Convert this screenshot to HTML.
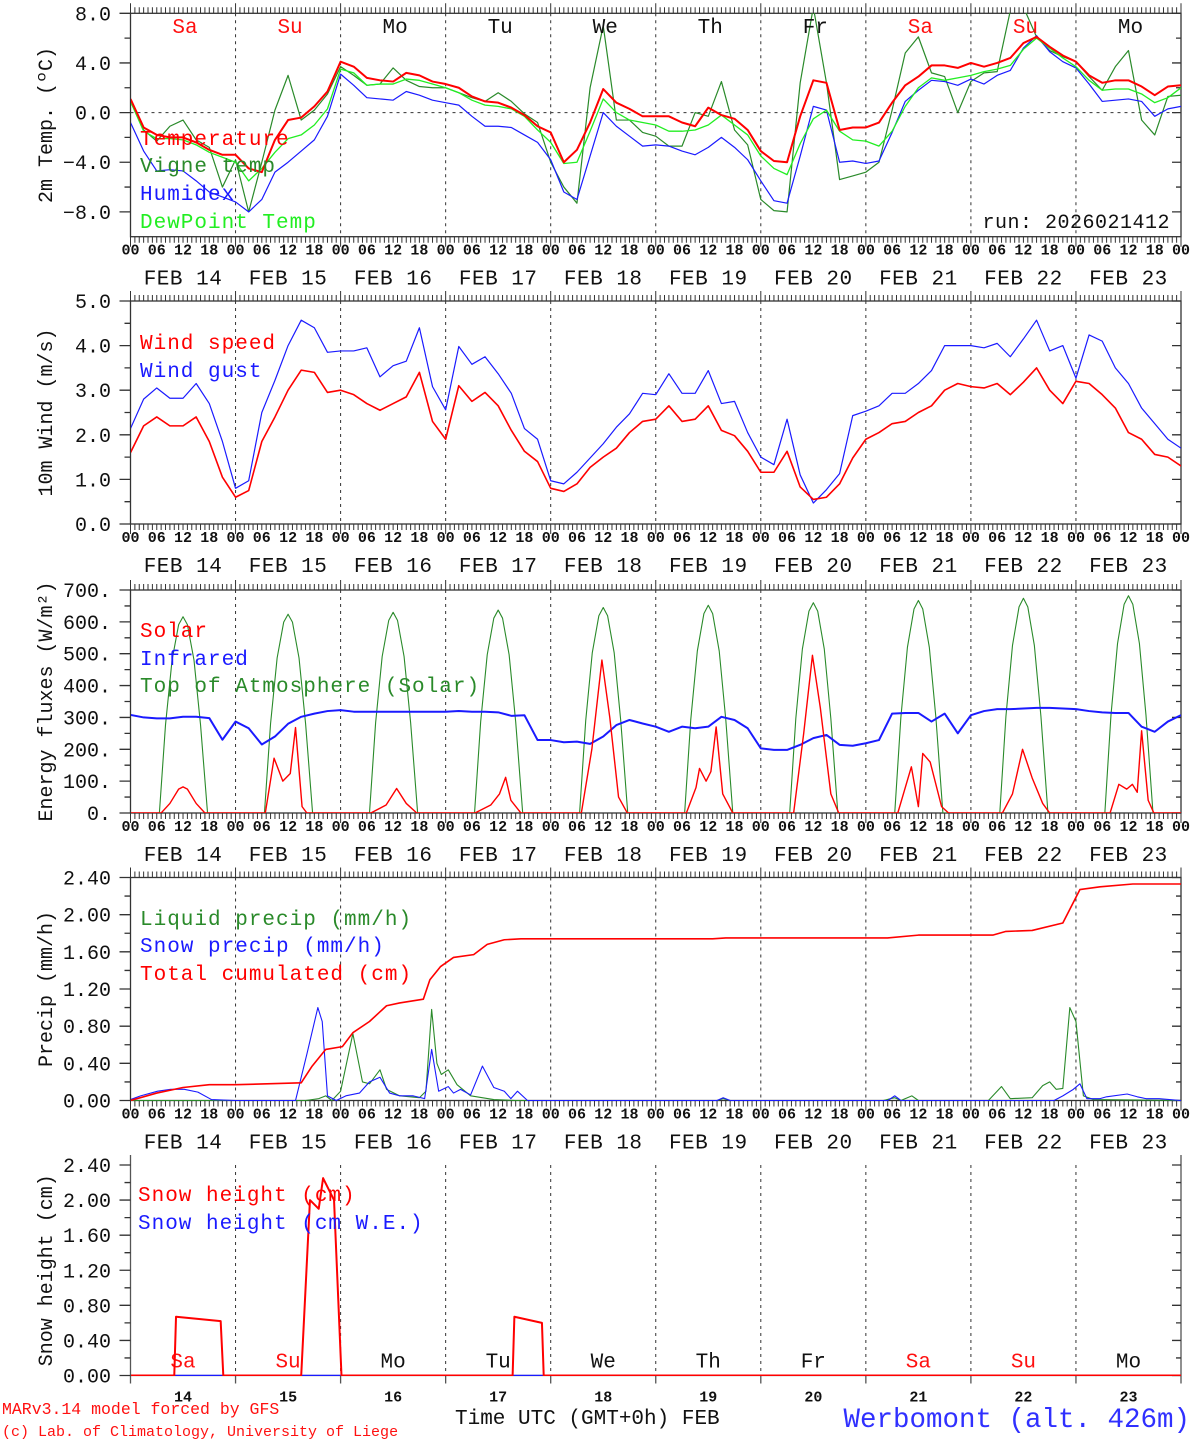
<!DOCTYPE html>
<html><head><meta charset="utf-8">
<style>
html,body{margin:0;padding:0;background:#fff;}
svg{display:block;font-family:"Liberation Mono",monospace;}
</style></head>
<body>
<svg id="chart" width="1194" height="1440" viewBox="0 0 1194 1440" xmlns="http://www.w3.org/2000/svg">
<defs>
<clipPath id="c1"><rect x="131" y="13" width="1050" height="224"/></clipPath>
<clipPath id="c2"><rect x="131" y="301" width="1050" height="223"/></clipPath>
<clipPath id="c3"><rect x="131" y="590" width="1050" height="223"/></clipPath>
<clipPath id="c4"><rect x="131" y="877" width="1050" height="224"/></clipPath>
<clipPath id="c5"><rect x="131" y="1150" width="1050" height="226"/></clipPath>
</defs>
</svg>
<script>
// ---------- DATA ----------
const tempVals = [1.1,-1.2,-1.8,-2.0,-2.0,-2.4,-3.0,-3.4,-3.4,-4.5,-4.8,-2.2,-0.6,-0.4,0.5,1.7,4.1,3.7,2.8,2.6,2.5,3.2,3.0,2.5,2.3,2.0,1.3,0.9,0.8,0.4,-0.2,-1.1,-1.6,-4.0,-3.0,-0.8,1.9,0.8,0.3,-0.3,-0.3,-0.3,-0.8,-1.1,0.4,-0.2,-0.5,-1.4,-3.1,-3.9,-4.0,-0.3,2.6,2.4,-1.4,-1.2,-1.2,-0.8,0.8,2.2,2.9,3.8,3.8,3.6,4.0,3.7,4.0,4.4,5.6,6.1,5.3,4.6,4.1,3.0,2.4,2.6,2.6,2.1,1.4,2.1,2.2];
const vigneVals = [0.9,-1.4,-2.3,-1.1,-0.6,-2.2,-2.8,-6.0,-3.8,-8.0,-4.0,0.2,3.0,-0.6,0.2,1.5,3.7,3.0,2.2,2.3,3.6,2.6,2.1,2.0,2.0,1.6,1.2,0.9,1.6,0.9,-0.1,-0.8,-4.0,-6.0,-7.3,2.0,7.0,-0.6,-0.6,-1.6,-1.9,-2.7,-2.7,0.0,-0.3,2.5,-1.4,-2.6,-7.0,-7.9,-8.0,2.4,8.5,2.4,-5.4,-5.1,-4.8,-4.0,0.2,4.8,6.1,3.2,2.9,0.0,2.5,3.2,3.3,8.2,8.5,6.1,5.0,4.5,4.1,2.9,1.8,3.7,5.0,-0.6,-1.8,1.3,1.4];
const humidexVals = [-0.8,-3.1,-4.7,-4.6,-4.7,-5.5,-6.4,-6.8,-7.2,-8.0,-7.0,-4.8,-4.0,-3.1,-2.2,-0.3,3.1,2.2,1.2,1.1,1.0,1.7,1.4,1.0,0.8,0.6,-0.3,-1.1,-1.1,-1.2,-1.8,-2.4,-3.8,-6.4,-7.0,-3.5,0.0,-1.1,-1.9,-2.7,-2.6,-2.7,-3.1,-3.4,-2.8,-2.0,-2.8,-3.8,-5.5,-7.1,-7.3,-3.5,0.5,0.2,-4.0,-3.9,-4.1,-3.9,-1.6,0.9,1.8,2.6,2.5,2.2,2.7,2.3,3.0,3.4,5.2,6.2,4.9,4.1,3.6,2.3,0.9,1.0,1.1,0.9,-0.3,0.3,0.5];
const dewVals = [0.9,-1.5,-2.1,-2.1,-2.2,-2.6,-3.2,-3.6,-4.0,-5.5,-4.5,-3.2,-2.1,-1.8,-1.0,0.3,3.5,3.2,2.2,2.3,2.3,2.7,2.6,2.3,2.0,1.6,1.0,0.6,0.5,0.3,-0.3,-1.4,-2.4,-4.1,-4.0,-1.5,1.1,0.0,-0.6,-0.8,-1.0,-1.5,-1.5,-1.4,-1.0,-0.2,-1.0,-1.8,-3.5,-4.5,-5.0,-2.5,-0.5,0.2,-1.5,-2.2,-2.3,-2.7,-1.5,0.5,2.0,2.8,2.6,2.8,3.0,3.3,3.5,3.8,5.1,6.0,5.2,4.4,3.7,2.6,1.8,1.9,1.9,1.5,0.8,1.2,2.0];
const windVals = [1.6,2.2,2.4,2.2,2.2,2.4,1.85,1.05,0.6,0.75,1.85,2.4,3.0,3.45,3.4,2.95,3.0,2.9,2.7,2.55,2.7,2.85,3.4,2.3,1.9,3.1,2.75,2.95,2.65,2.1,1.63,1.4,0.8,0.73,0.9,1.27,1.5,1.7,2.05,2.3,2.35,2.65,2.3,2.35,2.65,2.1,1.98,1.63,1.16,1.16,1.63,0.83,0.55,0.6,0.9,1.48,1.9,2.05,2.25,2.3,2.5,2.65,3.0,3.15,3.08,3.05,3.15,2.9,3.18,3.5,3.0,2.7,3.2,3.15,2.9,2.6,2.05,1.9,1.56,1.5,1.3];
const gustVals = [2.14,2.8,3.05,2.82,2.82,3.15,2.7,1.85,0.8,0.97,2.5,3.22,4.0,4.57,4.4,3.85,3.88,3.88,3.95,3.3,3.55,3.65,4.4,3.08,2.56,3.98,3.58,3.75,3.37,2.93,2.14,1.9,0.97,0.9,1.16,1.48,1.8,2.17,2.47,2.93,2.9,3.37,2.93,2.93,3.44,2.7,2.75,2.05,1.5,1.33,2.35,1.1,0.47,0.77,1.13,2.43,2.53,2.65,2.93,2.93,3.15,3.44,4.0,4.0,4.0,3.95,4.05,3.75,4.15,4.57,3.88,4.0,3.27,4.24,4.1,3.5,3.15,2.6,2.25,1.9,1.7];
const infraredVals = [308,300,297,297,302,302,298,230,287,266,215,240,280,302,312,320,323,318,318,318,318,318,318,318,318,320,318,318,316,305,307,229,229,222,224,217,240,276,292,281,271,255,271,266,271,302,292,266,203,198,198,214,235,245,214,211,219,229,312,314,314,287,312,250,307,320,326,326,328,330,330,328,326,320,316,314,314,271,255,287,307];
const solarHours = [0,7,9,11,12,13,15,17,30.8,32.8,34.8,36.5,37.7,39.2,40.3,54.9,58.4,60.8,63,65.4,78.7,82.3,84.3,85.7,86.9,89.2,103,105.4,107.7,109.5,111.5,113.5,127,129.2,130,131.5,132.6,133.8,135.3,137.6,151.5,153.8,155.8,157.6,160,161.8,175.3,178.4,180,181,182.7,185.3,186.9,199.2,201.5,203.8,206,208.4,210,223.8,225.8,227.6,228.9,230,231,232.5,233.8,240];
const solarVals = [0,0,30,75,82,75,30,0,0,172,100,124,268,20,0,0,25,77,30,0,0,25,60,112,40,0,0,200,480,300,50,0,0,80,140,100,130,270,60,0,0,250,495,330,60,0,0,145,20,187,160,20,0,0,60,200,110,30,0,0,90,75,90,65,258,40,0,0];
const toaPeaks = [616,624,630,637,645,652,660,667,674,682];
const toaProfileHours = [6.6,8,9.5,11,12,13,14.5,16,17.6];
const toaProfile = [0,0.45,0.78,0.96,1,0.96,0.78,0.45,0];
const cumHours = [0,6,12,18,24,39,41.5,44.6,48.4,50.8,54.6,58.5,61.5,66.9,68.4,70.8,73.8,78.4,81.5,85.4,89.2,133,136,173,180,197,200,206,213,216.9,221.5,229,240];
const cumVals = [0,0.08,0.14,0.17,0.17,0.19,0.37,0.55,0.58,0.73,0.85,1.02,1.05,1.09,1.30,1.44,1.54,1.57,1.68,1.73,1.74,1.74,1.75,1.75,1.78,1.78,1.82,1.83,1.91,2.27,2.30,2.33,2.33];
const liqHours = [0,40,43,44.6,46,48,50.8,53,54.6,57,58.5,61.5,66,67.5,68.8,70,71,72.6,74.6,77.7,83,88,134,135.4,137,172,174.6,176,178.5,180,196,199,201,206,208.4,210,211.5,213,214.6,216,217.7,220,240];
const liqVals = [0,0,0.02,0.05,0.0,0.1,0.72,0.2,0.18,0.33,0.12,0.05,0.03,0.1,0.98,0.4,0.28,0.33,0.17,0.05,0.01,0,0,0.02,0,0,0.03,0,0.05,0,0,0.15,0.02,0.03,0.16,0.2,0.12,0.13,1.0,0.85,0.05,0.01,0];
const snowHours = [0,2.3,6.2,9.2,12.3,15.4,18.5,24,37.7,40.3,42.8,43.8,45,47,49.2,52.3,54.6,57,59.2,61.5,64.6,67.2,68.8,70.4,72.6,73.8,75.4,77.7,80.4,83,85.4,86.9,88.4,90.7,134,135.4,137,173,174.6,176,211,213,215.4,216.9,218.5,221.5,223,227.7,230,232,235,240];
const snowVals = [0.01,0.05,0.1,0.12,0.12,0.09,0.01,0,0,0.5,1.0,0.85,0.05,0,0.05,0.08,0.2,0.25,0.08,0.05,0.05,0.02,0.55,0.1,0.15,0.08,0.12,0.06,0.37,0.14,0.1,0.02,0.1,0,0,0.03,0,0,0.05,0,0,0.05,0.12,0.18,0.02,0.02,0.04,0.07,0.04,0.02,0.02,0];
const heightHours = [0,10,10.4,20.6,21.2,39,41,43,44,46.5,48.2,87.3,87.7,94,94.4,240];
const heightVals = [0,0,0.67,0.62,0,0,2.0,1.9,2.25,2.0,0,0,0.67,0.6,0,0];
const heightWEVals = [0,0,0,0,0,0,0,0,0,0,0,0,0,0,0,0];
const dayNames = ["Sa","Su","Mo","Tu","We","Th","Fr","Sa","Su","Mo"];
const dayNums = ["14","15","16","17","18","19","20","21","22","23"];
const hourLabels = ["00","06","12","18"];
const tempTicks = ["8.0","4.0","0.0","\u22124.0","\u22128.0"];
const windTicks = ["5.0","4.0","3.0","2.0","1.0","0.0"];
const energyTicks = ["700.","600.","500.","400.","300.","200.","100.","0."];
const precipTicks = ["2.40","2.00","1.60","1.20","0.80","0.40","0.00"];

// ---------- HELPERS ----------
const NS = "http://www.w3.org/2000/svg";
const svg = document.getElementById("chart");
const X0 = 130.5, X1 = 1181;
function xh(h){ return X0 + h*(X1-X0)/240; }
function mk(tag, attrs, parent){
  const e = document.createElementNS(NS, tag);
  for (const k in attrs) e.setAttribute(k, attrs[k]);
  (parent||svg).appendChild(e);
  return e;
}
function txt(s, x, y, size, fill, anchor, name, parent){
  const t = mk("text", {x:x, y:y, "font-size":size, fill:fill, "text-anchor":anchor||"start"}, parent);
  t.textContent = s;
  
  
  return t;
}
function yMap(p){ return v => p.bot - (v - p.min)*(p.bot - p.top)/(p.max - p.min); }

const panels = [
  {id:1, top:13.3, bot:236.7, min:-10, max:8, ticks:tempTicks, tickVals:[8,4,0,-4,-8], minor:[6,2,-2,-6], title:"2m Temp. (\u00BAC)", frame:true},
  {id:2, top:301, bot:524, min:0, max:5, ticks:windTicks, tickVals:[5,4,3,2,1,0], minor:[4.5,3.5,2.5,1.5,0.5], title:"10m Wind (m/s)", frame:true},
  {id:3, top:590, bot:813, min:0, max:700, ticks:energyTicks, tickVals:[700,600,500,400,300,200,100,0], minor:[650,550,450,350,250,150,50], title:"Energy fluxes (W/m\u00B2)", frame:true},
  {id:4, top:877.5, bot:1100.5, min:0, max:2.4, ticks:precipTicks, tickVals:[2.4,2.0,1.6,1.2,0.8,0.4,0], minor:[2.2,1.8,1.4,1.0,0.6,0.2], title:"Precip (mm/h)", frame:true},
  {id:5, top:1165, bot:1375.5, min:0, max:2.4, ticks:precipTicks, tickVals:[2.4,2.0,1.6,1.2,0.8,0.4,0], minor:[2.2,1.8,1.4,1.0,0.6,0.2], title:"Snow height (cm)", frame:false}
];

function drawAxes(p){
  const g = mk("g", {});
  
  
  const y = yMap(p);
  for (let d=1; d<10; d++){
    const l = mk("line", {x1:xh(d*24), x2:xh(d*24), y1:p.top, y2:p.bot, stroke:"#333", "stroke-width":1, "stroke-dasharray":"3,4"}, g);
    
    
  }
  if (p.id===1){
    const z = mk("line", {x1:X0, x2:X1, y1:y(0), y2:y(0), stroke:"#333", "stroke-width":1, "stroke-dasharray":"3,4"}, g);
    
    
  }
  if (p.frame){
    const r = mk("rect", {x:X0, y:p.top, width:X1-X0, height:p.bot-p.top, fill:"none", stroke:"#333", "stroke-width":1.3}, g);
    
    
    let dstr = "";
    for (let h=0; h<=240; h++){
      const xx = xh(h).toFixed(2);
      const len = (h%24===0) ? 10 : 6;
      dstr += `M${xx},${p.top}V${p.top-len}M${xx},${p.bot}V${p.bot+len}`;
    }
    const t = mk("path", {d:dstr, stroke:"#333", "stroke-width":1, fill:"none"}, g);
    
    
  } else {
    const a = mk("path", {d:`M${X0},${p.top-10}V${p.bot}H${X1}M${X1},${p.top-10}V${p.bot}`, stroke:"#555", "stroke-width":1.3, fill:"none"}, g);
    
    
    let dstr = "";
    for (let d=0; d<=10; d++){ const xx=xh(d*24).toFixed(2); dstr += `M${xx},${p.bot}V${p.bot+8}`; }
    const t = mk("path", {d:dstr, stroke:"#555", "stroke-width":1.3, fill:"none"}, g);
    
    
  }
  let yd = "";
  p.tickVals.forEach(v => { const yy=y(v).toFixed(2); yd += `M${X0},${yy}H${X0-11}M${X1},${yy}H${X1-9}`; });
  p.minor.forEach(v => { const yy=y(v).toFixed(2); yd += `M${X0},${yy}H${X0-6}M${X1},${yy}H${X1-5}`; });
  const yt = mk("path", {d:yd, stroke:"#333", "stroke-width":1.3, fill:"none"}, g);
  
  
  p.tickVals.forEach((v,i) => { txt(p.ticks[i], 111, y(v)+7, 20, "#111", "end", "y-tick-label", g); });
  const cy = (p.top+p.bot)/2;
  const tt = txt(p.title, 0, 0, 20, "#111", "middle", "y-axis-title", g);
  tt.setAttribute("transform", `translate(52,${cy}) rotate(-90)`);
  if (p.frame){
    for (let h=0; h<=240; h+=6){
      txt(hourLabels[(h/6)%4], xh(h), p.bot+18, 15, "#111", "middle", "hour-label", g).setAttribute("font-weight","bold");
    }
    for (let d=0; d<10; d++){
      txt("FEB " + dayNums[d], xh(d*24+12), p.bot+48, 21, "#111", "middle", "date-label", g).setAttribute("letter-spacing","0.5");
    }
  } else {
    for (let d=0; d<10; d++){
      txt(dayNums[d], xh(d*24+12), p.bot+26, 15, "#111", "middle", "day-number-label", g).setAttribute("font-weight","bold");
      const red = (d===0||d===1||d===7||d===8);
      txt(dayNames[d], xh(d*24+12), p.bot-8, 21, red?"#ff1010":"#111", "middle", "day-name", g);
    }
  }
}
panels.forEach(drawAxes);

function series(p, hours, vals, color, width, name){
  const y = yMap(p);
  let d = "";
  vals.forEach((v,i) => { d += (i?"L":"M") + xh(hours[i]).toFixed(2) + "," + y(v).toFixed(2); });
  const path = mk("path", {d:d, fill:"none", stroke:color, "stroke-width":width, "stroke-linejoin":"round", "clip-path":`url(#c${p.id})`});
  
  
  return path;
}
const threeH = tempVals.map((_,i)=>i*3);

series(panels[0], threeH, vigneVals, "#2a8a2a", 1.2, "vigne-temp-line");
series(panels[0], threeH, humidexVals, "#1a1aff", 1.2, "humidex-line");
series(panels[0], threeH, dewVals, "#22ee22", 1.3, "dewpoint-line");
series(panels[0], threeH, tempVals, "#ff0000", 2, "temperature-line");
series(panels[1], threeH, gustVals, "#1a1aff", 1.2, "wind-gust-line");
series(panels[1], threeH, windVals, "#ff0000", 1.6, "wind-speed-line");
const toaH = [0], toaV = [0];
toaPeaks.forEach((pk,d) => { toaProfileHours.forEach((h,j) => { toaH.push(d*24+h); toaV.push(pk*toaProfile[j]); }); });
toaH.push(240); toaV.push(0);
series(panels[2], toaH, toaV, "#2a8a2a", 1.1, "toa-solar-line");
series(panels[2], threeH, infraredVals, "#1a1aff", 2, "infrared-line");
series(panels[2], solarHours, solarVals, "#ff0000", 1.4, "solar-line");
series(panels[3], liqHours, liqVals, "#2a8a2a", 1.1, "liquid-precip-line");
series(panels[3], snowHours, snowVals, "#1a1aff", 1.1, "snow-precip-line");
series(panels[3], cumHours, cumVals, "#ff0000", 1.6, "total-cumulated-line");
series(panels[4], heightHours, heightWEVals, "#1a1aff", 1.5, "snow-height-we-line");
series(panels[4], heightHours, heightVals, "#ff0000", 2, "snow-height-line");

for (let d=0; d<10; d++){
  const red = (d===0||d===1||d===7||d===8);
  txt(dayNames[d], xh(d*24+12)+2, 33, 21, red?"#ff1010":"#111", "middle", "day-name");
}
function legend(s, x, y, c, name){ const t = txt(s, x, y, 21, c, "start", name); t.setAttribute("letter-spacing","1"); }
legend("Temperature", 140, 145, "#ff0000", "legend-temperature");
legend("Vigne temp", 140, 172, "#2a8a2a", "legend-vigne-temp");
legend("Humidex", 140, 200, "#1a1aff", "legend-humidex");
legend("DewPoint Temp", 140, 228, "#22ee22", "legend-dewpoint");
txt("run: 2026021412", 1170, 228, 20, "#111", "end", "run-label").setAttribute("letter-spacing","0.5");
legend("Wind speed", 140, 349, "#ff0000", "legend-wind-speed");
legend("Wind gust", 140, 377, "#1a1aff", "legend-wind-gust");
legend("Solar", 140, 637, "#ff0000", "legend-solar");
legend("Infrared", 140, 665, "#1a1aff", "legend-infrared");
legend("Top of Atmosphere (Solar)", 140, 692, "#2a8a2a", "legend-toa");
legend("Liquid precip (mm/h)", 140, 925, "#2a8a2a", "legend-liquid-precip");
legend("Snow precip (mm/h)", 140, 952, "#1a1aff", "legend-snow-precip");
legend("Total cumulated (cm)", 140, 980, "#ff0000", "legend-total-cumulated");
legend("Snow height (cm)", 138, 1201, "#ff0000", "legend-snow-height");
legend("Snow height (cm W.E.)", 138, 1229, "#1a1aff", "legend-snow-height-we");
txt("MARv3.14 model forced by GFS", 2, 1414, 16.5, "#ff1010", "start", "credit-model");
txt("(c) Lab. of Climatology, University of Liege", 2, 1436, 15, "#ff1010", "start", "credit-lab");
txt("Time UTC (GMT+0h) FEB", 455, 1424, 21, "#111", "start", "x-axis-title");
txt("Werbomont (alt. 426m)", 1190, 1427, 27.5, "#3030ff", "end", "station-title");
</script>
</body></html>
